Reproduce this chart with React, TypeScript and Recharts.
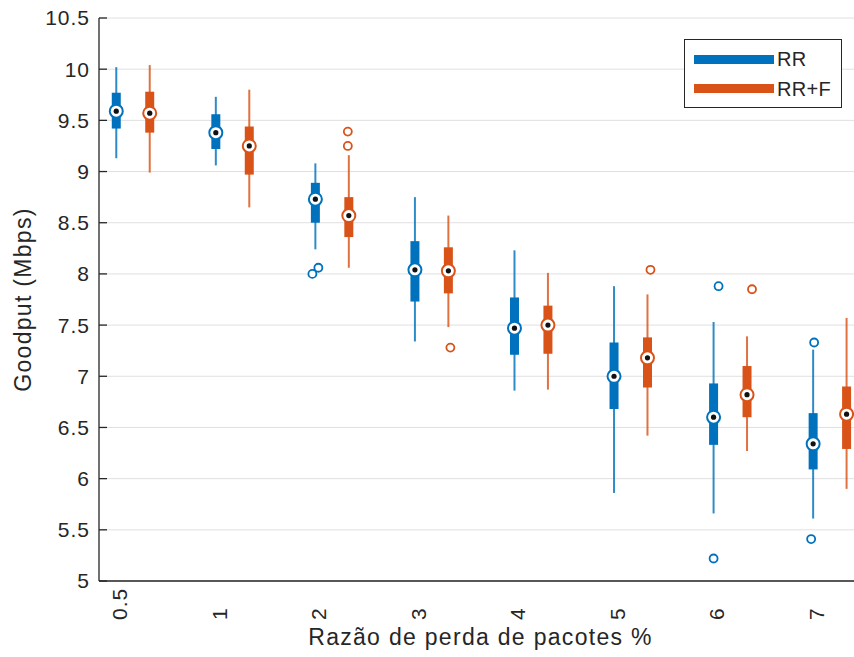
import React from 'react';
import { ComposedChart, Scatter, XAxis, YAxis, CartesianGrid, Legend } from 'recharts';

// ---------- data ----------
const categories = ['0.5', '1', '2', '3', '4', '5', '6', '7'];
const yTicks = [5, 5.5, 6, 6.5, 7, 7.5, 8, 8.5, 9, 9.5, 10, 10.5];

const seriesNames = ['RR', 'RR+F'];

// RR
const rrLow = [9.13, 9.06, 8.24, 7.34, 6.86, 5.86, 5.66, 5.61];
const rrQ1 = [9.42, 9.22, 8.5, 7.73, 7.21, 6.68, 6.33, 6.09];
const rrMed = [9.59, 9.38, 8.73, 8.04, 7.47, 7.0, 6.6, 6.34];
const rrQ3 = [9.77, 9.56, 8.89, 8.32, 7.77, 7.33, 6.93, 6.64];
const rrHigh = [10.02, 9.73, 9.08, 8.75, 8.23, 7.88, 7.53, 7.26];
const rrOutlierCat = [2, 2, 6, 6, 7, 7];
const rrOutlierVal = [8.0, 8.06, 7.88, 5.22, 7.33, 5.41];
const rrOutlierJitter = [-0.03, 0.03, 0.05, 0.0, 0.01, -0.02];

// RR+F
const fLow = [8.99, 8.65, 8.06, 7.48, 6.87, 6.42, 6.27, 5.9];
const fQ1 = [9.38, 8.97, 8.36, 7.81, 7.22, 6.89, 6.6, 6.29];
const fMed = [9.57, 9.25, 8.57, 8.03, 7.5, 7.18, 6.82, 6.63];
const fQ3 = [9.78, 9.44, 8.75, 8.26, 7.69, 7.38, 7.1, 6.9];
const fHigh = [10.04, 9.8, 9.16, 8.57, 8.01, 7.8, 7.39, 7.57];
const fOutlierCat = [2, 2, 3, 5, 6];
const fOutlierVal = [9.39, 9.25, 7.28, 8.04, 7.85];
const fOutlierJitter = [-0.01, -0.01, 0.02, 0.03, 0.05];

// ---------- styling ----------
const BLUE = '#0072BD';
const ORANGE = '#D95319';
const TEXT = '#262626';
const FONT = '"Liberation Sans", Arial, Helvetica, sans-serif';
const GROUP_OFFSET = 0.168;
const X_DOMAIN: [number, number] = [-0.3415, 7.2425];

type Stats = {
  name: string;
  color: string;
  offset: number;
  low: number[];
  q1: number[];
  med: number[];
  q3: number[];
  high: number[];
  oCat: number[];
  oVal: number[];
  oJit: number[];
};

const series: Stats[] = [
  {
    name: seriesNames[0], color: BLUE, offset: -GROUP_OFFSET,
    low: rrLow, q1: rrQ1, med: rrMed, q3: rrQ3, high: rrHigh,
    oCat: rrOutlierCat, oVal: rrOutlierVal, oJit: rrOutlierJitter,
  },
  {
    name: seriesNames[1], color: ORANGE, offset: GROUP_OFFSET,
    low: fLow, q1: fQ1, med: fMed, q3: fQ3, high: fHigh,
    oCat: fOutlierCat, oVal: fOutlierVal, oJit: fOutlierJitter,
  },
];

const Empty = () => <g />;

const medianShape = (color: string) => (props: any) => {
  const { cx, cy } = props;
  if (cx == null || cy == null) return <g />;
  return (
    <g>
      <circle cx={cx} cy={cy} r={6.5} fill="#ffffff" stroke={color} strokeWidth={2} />
      <circle cx={cx} cy={cy} r={2.6} fill="#111111" />
    </g>
  );
};

const outlierShape = (color: string) => (props: any) => {
  const { cx, cy } = props;
  if (cx == null || cy == null) return <g />;
  return <circle cx={cx} cy={cy} r={4} fill="#ffffff" stroke={color} strokeWidth={1.8} />;
};

const XTick = (props: any) => {
  const { x, y, payload } = props;
  const label = categories[Math.round(payload.value)];
  const tx = x - 6;
  const ty = y + 39;
  return (
    <text
      x={tx}
      y={ty}
      transform={`rotate(-90, ${tx}, ${ty})`}
      textAnchor="start"
      fill={TEXT}
      fontSize={21}
      fontFamily={FONT}
      style={{ letterSpacing: '1px' }}
    >
      {label}
    </text>
  );
};

const YTick = (props: any) => {
  const { y, payload } = props;
  return (
    <text
      x={90}
      y={y}
      dy="0.355em"
      textAnchor="end"
      fill={TEXT}
      fontSize={21}
      fontFamily={FONT}
      style={{ letterSpacing: '1px' }}
    >
      {String(payload.value)}
    </text>
  );
};

const LegendBox = () => (
  <div
    style={{
      width: 158,
      height: 69,
      boxSizing: 'border-box',
      border: `1px solid ${TEXT}`,
      background: '#ffffff',
      position: 'relative',
      fontFamily: FONT,
    }}
  >
    {series.map((s, i) => (
      <React.Fragment key={s.name}>
        <div
          style={{
            position: 'absolute',
            left: 9,
            top: 14.5 + i * 29.5,
            width: 80,
            height: 9,
            background: s.color,
          }}
        />
        <div
          style={{
            position: 'absolute',
            left: 92,
            top: 8 + i * 29.5,
            height: 22,
            lineHeight: '22px',
            fontSize: 20,
            color: TEXT,
            letterSpacing: '0.3px',
            whiteSpace: 'nowrap',
          }}
        >
          {s.name}
        </div>
      </React.Fragment>
    ))}
  </div>
);

export default function App() {
  const whiskerSeries: React.ReactNode[] = [];
  const boxSeries: React.ReactNode[] = [];
  series.forEach((s) => {
    categories.forEach((_, i) => {
      const x = i + s.offset;
      whiskerSeries.push(
        <Scatter
          key={`w-${s.name}-${i}`}
          data={[{ x, y: s.low[i] }, { x, y: s.high[i] }]}
          line={{ stroke: s.color, strokeWidth: 2, strokeOpacity: 0.82 }}
          lineType="joint"
          shape={Empty}
          isAnimationActive={false}
        />
      );
      boxSeries.push(
        <Scatter
          key={`b-${s.name}-${i}`}
          data={[{ x, y: s.q1[i] }, { x, y: s.q3[i] }]}
          line={{ stroke: s.color, strokeWidth: 9 }}
          lineType="joint"
          shape={Empty}
          isAnimationActive={false}
        />
      );
    });
  });

  return (
    <div style={{ position: 'absolute', left: 0, top: 0, width: 854, height: 657, background: '#ffffff' }}>
      <ComposedChart width={854} height={657} margin={{ top: 18, right: 0, bottom: 0, left: 0 }}>
        <CartesianGrid horizontal vertical={false} stroke="#e0e0e0" strokeWidth={1} />
        <XAxis
          type="number"
          dataKey="x"
          domain={X_DOMAIN}
          allowDataOverflow
          ticks={categories.map((_, i) => i)}
          interval={0}
          tickLine={false}
          tickSize={0}
          tickMargin={0}
          height={76}
          axisLine={{ stroke: TEXT, strokeWidth: 1.3 }}
          tick={<XTick />}
          label={{
            value: 'Razão de perda de pacotes %',
            position: 'insideBottom',
            offset: 12,
            dx: 4,
            fill: TEXT,
            fontSize: 23,
            fontFamily: FONT,
            style: { letterSpacing: '1.3px' },
          }}
        />
        <YAxis
          type="number"
          dataKey="y"
          domain={[5, 10.5]}
          allowDataOverflow
          ticks={yTicks}
          interval={0}
          width={99}
          tickSize={-8}
          tickMargin={16}
          tickLine={{ stroke: TEXT, strokeWidth: 1.3 }}
          axisLine={{ stroke: TEXT, strokeWidth: 1.3 }}
          tick={<YTick />}
          label={{
            value: 'Goodput (Mbps)',
            angle: -90,
            position: 'insideLeft',
            offset: 23,
            textAnchor: 'middle',
            fill: TEXT,
            fontSize: 23,
            fontFamily: FONT,
            style: { letterSpacing: '1.3px' },
          }}
        />
        {whiskerSeries}
        {boxSeries}
        {series.map((s) => (
          <Scatter
            key={`m-${s.name}`}
            data={s.med.map((v, i) => ({ x: i + s.offset, y: v }))}
            shape={medianShape(s.color)}
            isAnimationActive={false}
          />
        ))}
        {series.map((s) => (
          <Scatter
            key={`o-${s.name}`}
            data={s.oVal.map((v, j) => ({ x: s.oCat[j] + s.offset + s.oJit[j], y: v }))}
            shape={outlierShape(s.color)}
            isAnimationActive={false}
          />
        ))}
        <Legend
          layout="vertical"
          align="center"
          verticalAlign="middle"
          wrapperStyle={{ left: 684, top: 39, width: 158, height: 69, right: 'auto', bottom: 'auto' }}
          content={() => <LegendBox />}
        />
      </ComposedChart>
    </div>
  );
}
